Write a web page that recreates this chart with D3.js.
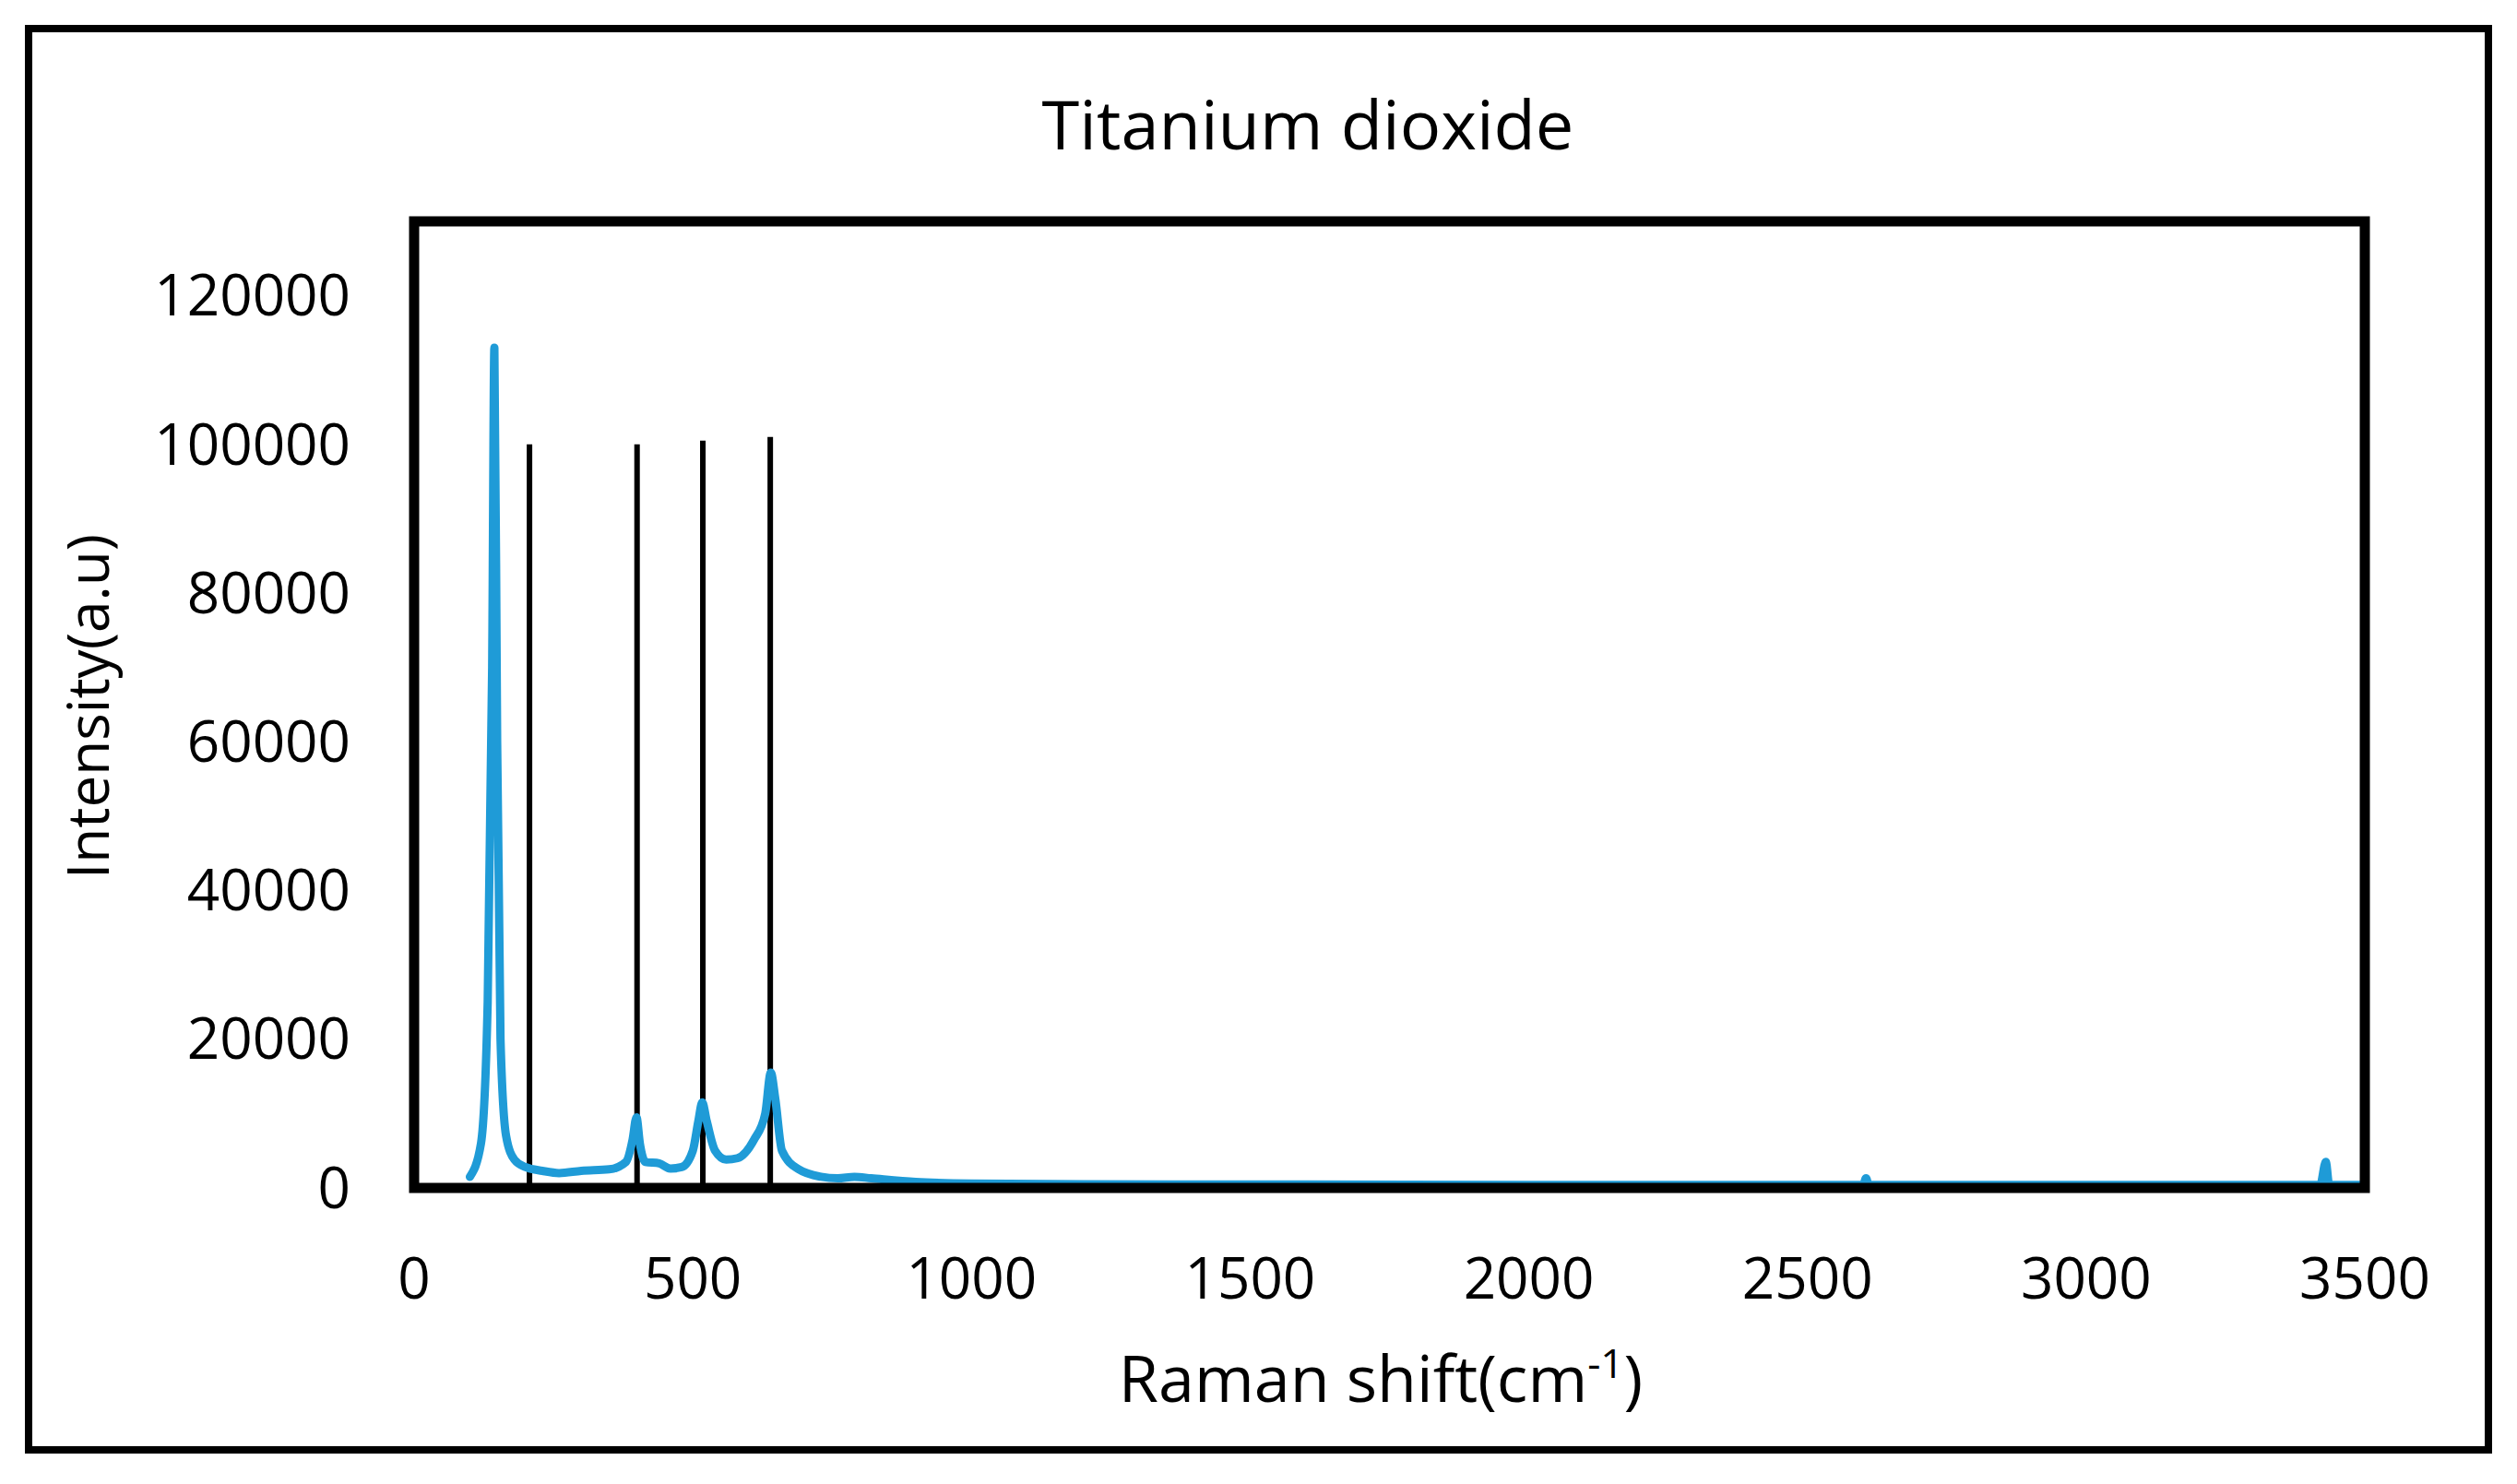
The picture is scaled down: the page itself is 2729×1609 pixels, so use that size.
<!DOCTYPE html>
<html><head><meta charset="utf-8">
<script src="https://cdn.jsdelivr.net/npm/d3@7"></script>
<style>body{margin:0;background:#fff}text{font-family:"Open Sans",sans-serif;fill:#000}</style>
</head><body>
<svg id="chart" width="2729" height="1609"></svg>
<script>
// spectrum
const shift = [100,120,132,140,144,149,155,165,180,200,230,260,300,350,380,392,399,405,415,440,460,480,500,510,517,525,540,560,580,610,630,640,648,660,690,730,760,790,820,900,1000,1200,1600,2000,2600,2605,2610,3000,3420,3430,3436,3500];
const intensity = [1500,6000,25000,70000,113000,60000,20000,7000,3800,2800,2300,2000,2300,2500,3500,6500,9500,6000,3500,3300,2600,2800,5000,9000,11500,9000,5000,3800,4000,6500,10000,15500,12000,5000,2500,1500,1300,1500,1300,800,600,500,450,400,400,1300,400,400,400,3500,400,400];
// reference lines
const refShift = [207,400,518,639];
const refHeight = [100000,100000,100500,101000];
const xTicks = [0,500,1000,1500,2000,2500,3000,3500];
const yTicks = [0,20000,40000,60000,80000,100000,120000];

const svg = d3.select('#chart');
const m = {left: 449, top: 240, right: 2564, bottom: 1288};
const x = d3.scaleLinear().domain([0,3500]).range([m.left, m.right]);
const y = d3.scaleLinear().domain([0,130000]).range([m.bottom, m.top]);

// outer frame
svg.append('rect').attr('x',31).attr('y',31).attr('width',2667).attr('height',1541)
    .attr('fill','none').attr('stroke','#000').attr('stroke-width',8);

svg.append('text').attr('x',1418).attr('y',162).attr('text-anchor','middle')
    .attr('font-size',74).text('Titanium dioxide');

// tick labels
svg.selectAll('.xt').data(xTicks).enter().append('text')
    .attr('x', d => x(d)).attr('y', 1408).attr('text-anchor','middle')
    .attr('font-size',62).text(d => d);
svg.selectAll('.yt').data(yTicks).enter().append('text')
    .attr('x', 380).attr('y', d => y(d)).attr('dy','0.35em').attr('text-anchor','end')
    .attr('font-size',62).text(d => d);

// axis titles
svg.append('text').attr('transform','translate(96,766) rotate(-90)')
    .attr('text-anchor','middle').attr('dy','0.35em').attr('font-size',62).text('Intensity(a.u)');
const xl = svg.append('text').attr('x',1497).attr('y',1520).attr('text-anchor','middle').attr('font-size',70);
xl.append('tspan').text('Raman shift(cm');
xl.append('tspan').attr('dy',-26).attr('font-size',44).text('-1');
xl.append('tspan').attr('dy',26).text(')');

// reference lines
svg.selectAll('.ref').data(refShift).enter().append('line')
    .attr('x1', d => x(d)).attr('x2', d => x(d))
    .attr('y1', y(0)).attr('y2', (d,i) => y(refHeight[i]))
    .attr('stroke','#000').attr('stroke-width',6);

// spectrum
const pts = shift.map((s,i) => [s, intensity[i]]);
svg.append('path').datum(pts)
    .attr('d', d3.line().x(d => x(d[0])).y(d => y(d[1])).curve(d3.curveMonotoneX))
    .attr('fill','none').attr('stroke','#1f9bd7').attr('stroke-width',9)
    .attr('stroke-linejoin','round').attr('stroke-linecap','round');

// plot box
svg.append('rect').attr('x',m.left).attr('y',m.top)
    .attr('width',m.right-m.left).attr('height',m.bottom-m.top)
    .attr('fill','none').attr('stroke','#000').attr('stroke-width',11);
</script>
</body></html>
